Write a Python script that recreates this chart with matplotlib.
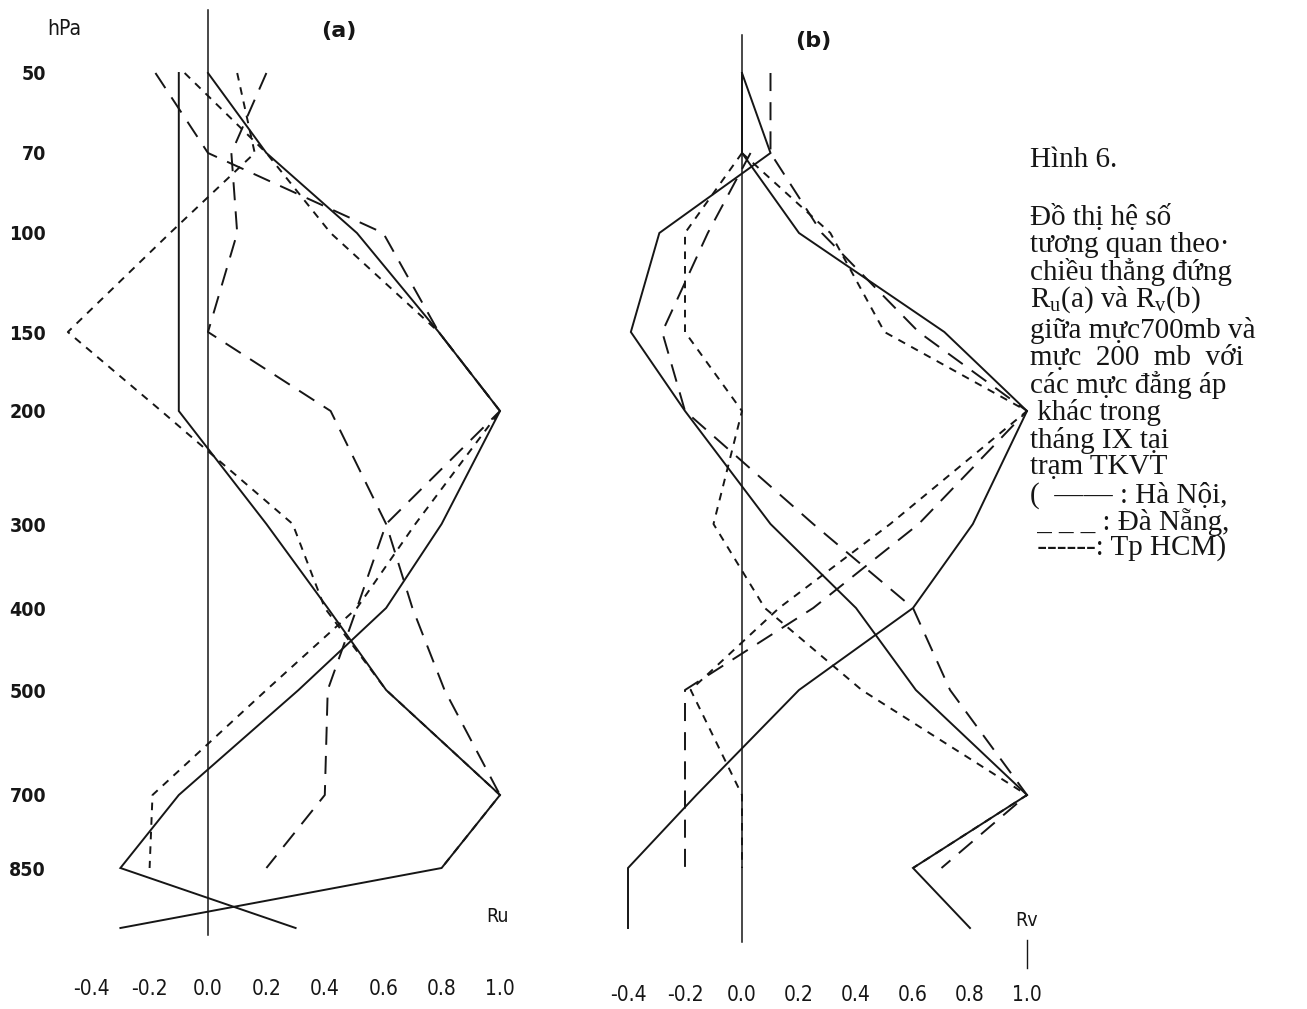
import numpy as np
import matplotlib.pyplot as plt
from matplotlib.lines import Line2D

plt.rcParams['lines.scale_dashes'] = False
plt.rcParams['mathtext.fontset'] = 'custom'
plt.rcParams['mathtext.rm'] = 'Liberation Serif'

nan = np.nan

# pressure levels (hPa) and axis labels
levels = [50, 70, 100, 150, 200, 300, 400, 500, 700, 850, 1000]
level_labels = ['50', '70', '100', '150', '200', '300', '400', '500', '700', '850']
r_ticks = [-0.4, -0.2, 0.0, 0.2, 0.4, 0.6, 0.8, 1.0]
r_labels = ['-0.4', '-0.2', '0.0', '0.2', '0.4', '0.6', '0.8', '1.0']

# (a) Ru: correlation with the 200 mb and the 700 mb level
ru_hanoi_200 = [0.00, 0.20, 0.51, 0.79, 1.00, 0.80, 0.61, 0.31, -0.10, -0.30, 0.30]
ru_hanoi_700 = [-0.10, -0.10, -0.10, -0.10, -0.10, 0.20, 0.41, 0.61, 1.00, 0.80, -0.30]
ru_danang_200 = [-0.18, 0.00, 0.60, 0.79, 1.00, 0.61, 0.51, 0.41, 0.40, 0.20, nan]
ru_danang_700 = [0.20, 0.08, 0.10, 0.00, 0.42, 0.61, 0.70, 0.81, 1.00, nan, nan]
ru_hcm_200 = [-0.08, 0.20, 0.42, 0.79, 1.00, 0.71, 0.51, 0.20, -0.19, -0.20, nan]
ru_hcm_700 = [0.10, 0.16, -0.13, -0.48, -0.16, 0.29, 0.40, 0.61, 1.00, 0.80, nan]

# (b) Rv
rv_hanoi_200 = [0.00, 0.00, 0.20, 0.71, 1.00, 0.81, 0.60, 0.20, -0.16, -0.40, -0.40]
rv_hanoi_700 = [0.00, 0.10, -0.29, -0.39, -0.20, 0.10, 0.40, 0.61, 1.00, 0.60, 0.80]
rv_danang_200 = [0.10, 0.10, 0.28, 0.62, 1.00, 0.62, 0.25, -0.20, -0.20, -0.20, nan]
rv_danang_700 = [nan, 0.03, -0.12, -0.28, -0.20, 0.25, 0.60, 0.73, 1.00, 0.70, nan]
rv_hcm_200 = [nan, 0.00, 0.31, 0.50, 1.00, 0.52, 0.13, -0.18, 0.00, 0.00, nan]
rv_hcm_700 = [nan, 0.00, -0.20, -0.20, 0.00, -0.10, 0.08, 0.42, 1.00, 0.60, nan]

caption = [
    'Hình 6.',
    '',
    'Đồ thị hệ số',
    'tương quan theo·',
    'chiều thẳng đứng',
    r'R$_\mathrm{u}$(a) và R$_\mathrm{v}$(b)',
    'giữa mực700mb và',
    'mực  200  mb  với',
    'các mực đẳng áp',
    ' khác trong',
    'tháng IX tại',
    'trạm TKVT',
    '(  —— : Hà Nội,',
    ' _ _ _ : Đà Nẵng,',
    ' ------: Tp HCM)',
]

ink = '#161616'
W, H = 1307, 1009

# the pressure axis of the original sheet is neither linear nor log
_p_knots = [10, 50, 70, 100, 150, 200, 300, 400, 500, 700, 850, 1000, 1300]
_d_knots = [-87, 73, 153, 233, 332, 411, 524, 608, 690, 795, 868, 928, 1048]


def p2d(p):
    return np.interp(p, _p_knots, _d_knots)


def d2p(d):
    return np.interp(d, _d_knots, _p_knots)


solid = dict(linestyle='-')
long_dash = dict(linestyle=(0, (13, 8)))
short_dash = dict(linestyle=(0, (5.5, 5)))

sans = 'DejaVu Sans'

fig = plt.figure(figsize=(W / 100, H / 100), dpi=100)

bottom_px = 975


def make_axes(left_px, right_px, r0, r1):
    ax = fig.add_axes([left_px / W, (H - bottom_px) / H,
                       (right_px - left_px) / W, bottom_px / H])
    ax.set_yscale('function', functions=(p2d, d2p))
    ax.set_ylim(d2p(bottom_px), d2p(0))
    ax.set_xlim(r0, r1)
    for s in ax.spines.values():
        s.set_visible(False)
    ax.tick_params(length=0)
    ax.patch.set_alpha(0)
    return ax


# pixel -> r mapping: panel a: 208 + 292 r ; panel b: 742 + 285 r
ax_a = make_axes(60, 560, (60 - 208) / 292, (560 - 208) / 292)
ax_b = make_axes(575, 1060, (575 - 742) / 285, (1060 - 742) / 285)

for ax, series in [
    (ax_a, [(ru_hanoi_200, solid), (ru_hanoi_700, solid),
            (ru_danang_200, long_dash), (ru_danang_700, long_dash),
            (ru_hcm_200, short_dash), (ru_hcm_700, short_dash)]),
    (ax_b, [(rv_hanoi_200, solid), (rv_hanoi_700, solid),
            (rv_danang_200, long_dash), (rv_danang_700, long_dash),
            (rv_hcm_200, short_dash), (rv_hcm_700, short_dash)]),
]:
    for vals, style in series:
        ax.plot(vals, levels, color=ink, lw=1.4, solid_joinstyle='miter', **style)
    ax.set_xticks(r_ticks, r_labels, family=sans, fontstretch='condensed',
                  fontsize=15, color=ink)

ax_a.axvline(0, ymin=1 - 935 / bottom_px, ymax=1 - 10 / bottom_px, color=ink, lw=1.1)
ax_b.axvline(0, ymin=1 - 942 / bottom_px, ymax=1 - 35 / bottom_px, color=ink, lw=1.1)

ax_a.tick_params(axis='x', pad=3)
ax_b.tick_params(axis='x', pad=7)
ax_a.set_yticks(levels[:-1], level_labels, family=sans, fontstretch='condensed',
                fontsize=14, fontweight='bold', color=ink)
ax_a.tick_params(axis='y', pad=10)
ax_b.set_yticks([])


def ftext(x, y, s, **kw):
    fig.text(x / W, 1 - y / H, s, **kw)


ftext(64, 29, 'hPa', ha='center', va='center', family=sans,
      fontstretch='condensed', fontsize=15, color=ink)
ftext(339, 31, '(a)', ha='center', va='center', family=sans, fontsize=16,
      fontweight='bold', color=ink)
ftext(813, 41, '(b)', ha='center', va='center', family=sans, fontsize=16,
      fontweight='bold', color=ink)
ftext(498, 916, 'Ru', ha='center', va='center', family=sans,
      fontstretch='condensed', fontsize=14, color=ink)
ftext(1027, 921, 'Rv', ha='center', va='center', family=sans,
      fontstretch='condensed', fontsize=14, color=ink)
fig.add_artist(Line2D([1027 / W, 1027 / W], [1 - 940 / H, 1 - 968 / H],
                      color=ink, lw=1.0))

cap_y = [160, 189, 218, 245, 272, 300, 330, 358, 385, 413, 440, 467, 495, 522, 548]
for y, line in zip(cap_y, caption):
    if line:
        ftext(1030, y, line, ha='left', va='center', family='Liberation Serif',
              fontsize=21, color=ink)

fig.savefig('out.png', dpi=100)
